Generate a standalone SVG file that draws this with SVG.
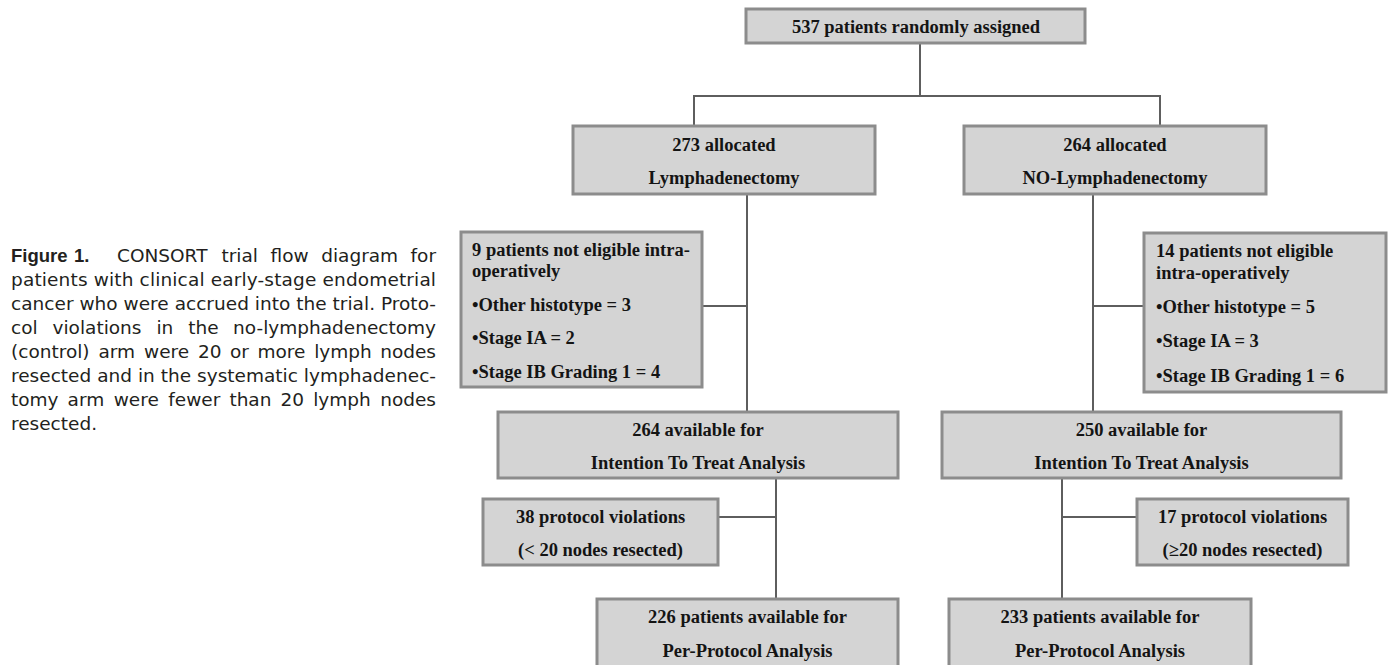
<svg xmlns="http://www.w3.org/2000/svg" width="1390" height="665" viewBox="0 0 1390 665">
<style>
.box{fill:#d4d4d4;stroke:#8c8c8c;stroke-width:3}
.t{font-family:"Liberation Serif","Times New Roman",serif;font-weight:bold;font-size:18.5px;fill:#141414}
.c{text-anchor:middle}
.con{fill:none;stroke:#5e5e5e;stroke-width:2}
.cap{font-family:"DejaVu Sans","Liberation Sans",sans-serif;font-size:18.5px;fill:#231f20}
.b{font-family:"Liberation Sans",Arial,sans-serif;font-weight:bold}
.e{text-anchor:end}
</style>
<rect width="1390" height="665" fill="#ffffff"/>
<g id="caption" class="cap">
<text y="262"><tspan class="b" x="11">Figure</tspan><tspan class="b" x="74">1.</tspan><tspan x="117">CONSORT</tspan><tspan x="221.4">trial</tspan><tspan x="270.5">flow</tspan><tspan x="321.2">diagram</tspan></text>
<text y="262" x="436" class="e">for</text>
<text y="286" x="11" textLength="425" lengthAdjust="spacing">patients with clinical early-stage endometrial</text>
<text y="310" x="11" textLength="425" lengthAdjust="spacing">cancer who were accrued into the trial. Proto-</text>
<text y="334"><tspan x="11">col</tspan><tspan x="52.5">violations</tspan><tspan x="156.4">in</tspan><tspan x="188.2">the</tspan></text>
<text y="334" x="436" class="e">no-lymphadenectomy</text>
<text y="358"><tspan x="11">(control)</tspan><tspan x="98.5">arm</tspan><tspan x="144">were</tspan><tspan x="198">20</tspan><tspan x="230">or</tspan><tspan x="257.4">more</tspan><tspan x="314.2">lymph</tspan></text>
<text y="358" x="436" class="e">nodes</text>
<text y="382" x="11" textLength="425" lengthAdjust="spacing">resected and in the systematic lymphadenec-</text>
<text y="406"><tspan x="11">tomy</tspan><tspan x="67.6">arm</tspan><tspan x="113.7">were</tspan><tspan x="168.3">fewer</tspan><tspan x="229.4">than</tspan><tspan x="280.6">20</tspan><tspan x="313.2">lymph</tspan></text>
<text y="406" x="436" class="e">nodes</text>
<text y="430" x="11">resected.</text>
</g>
<g id="connectors" class="con">
<path d="M920 43V96M694 126V96H1160V126"/>
<path d="M747 194V412M702 306H747"/>
<path d="M1093 194V412M1093 306H1144"/>
<path d="M776 478V599M718 517H776"/>
<path d="M1062 478V599M1062 517H1137"/>
</g>
<g id="randomized">
<rect class="box" x="746" y="9" width="339" height="34"/>
<text class="t c" x="916" y="33">537 patients randomly assigned</text>
</g>
<g id="alloc-lymph">
<rect class="box" x="573" y="126" width="302" height="68"/>
<text class="t c" x="724" y="151">273 allocated</text>
<text class="t c" x="724" y="184">Lymphadenectomy</text>
</g>
<g id="alloc-nolymph">
<rect class="box" x="964" y="126" width="302" height="68"/>
<text class="t c" x="1115" y="151">264 allocated</text>
<text class="t c" x="1115" y="184">NO-Lymphadenectomy</text>
</g>
<g id="excl-lymph">
<rect class="box" x="461" y="232" width="241" height="155"/>
<text class="t" x="472" y="256">9 patients not eligible intra-</text>
<text class="t" x="472" y="277">operatively</text>
<text class="t" x="472" y="311">•Other histotype = 3</text>
<text class="t" x="472" y="344">•Stage IA = 2</text>
<text class="t" x="472" y="378">•Stage IB Grading 1 = 4</text>
</g>
<g id="excl-nolymph">
<rect class="box" x="1144" y="233" width="242" height="159"/>
<text class="t" x="1156" y="257">14 patients not eligible</text>
<text class="t" x="1156" y="279">intra-operatively</text>
<text class="t" x="1156" y="313">•Other histotype = 5</text>
<text class="t" x="1156" y="347">•Stage IA = 3</text>
<text class="t" x="1156" y="382">•Stage IB Grading 1 = 6</text>
</g>
<g id="itt-lymph">
<rect class="box" x="498" y="412" width="400" height="66"/>
<text class="t c" x="698" y="436">264 available for</text>
<text class="t c" x="698" y="469">Intention To Treat Analysis</text>
</g>
<g id="itt-nolymph">
<rect class="box" x="942" y="412" width="399" height="66"/>
<text class="t c" x="1141.5" y="436">250 available for</text>
<text class="t c" x="1141.5" y="469">Intention To Treat Analysis</text>
</g>
<g id="viol-lymph">
<rect class="box" x="483" y="499" width="235" height="66"/>
<text class="t c" x="600.5" y="523">38 protocol violations</text>
<text class="t c" x="600.5" y="556">(&lt; 20 nodes resected)</text>
</g>
<g id="viol-nolymph">
<rect class="box" x="1137" y="499" width="211" height="66"/>
<text class="t c" x="1242.5" y="523">17 protocol violations</text>
<text class="t c" x="1242.5" y="556">(≥20 nodes resected)</text>
</g>
<g id="pp-lymph">
<rect class="box" x="597" y="599" width="301" height="72"/>
<text class="t c" x="747.5" y="623">226 patients available for</text>
<text class="t c" x="747.5" y="657">Per-Protocol Analysis</text>
</g>
<g id="pp-nolymph">
<rect class="box" x="949" y="599" width="302" height="72"/>
<text class="t c" x="1100" y="623">233 patients available for</text>
<text class="t c" x="1100" y="657">Per-Protocol Analysis</text>
</g>
</svg>
